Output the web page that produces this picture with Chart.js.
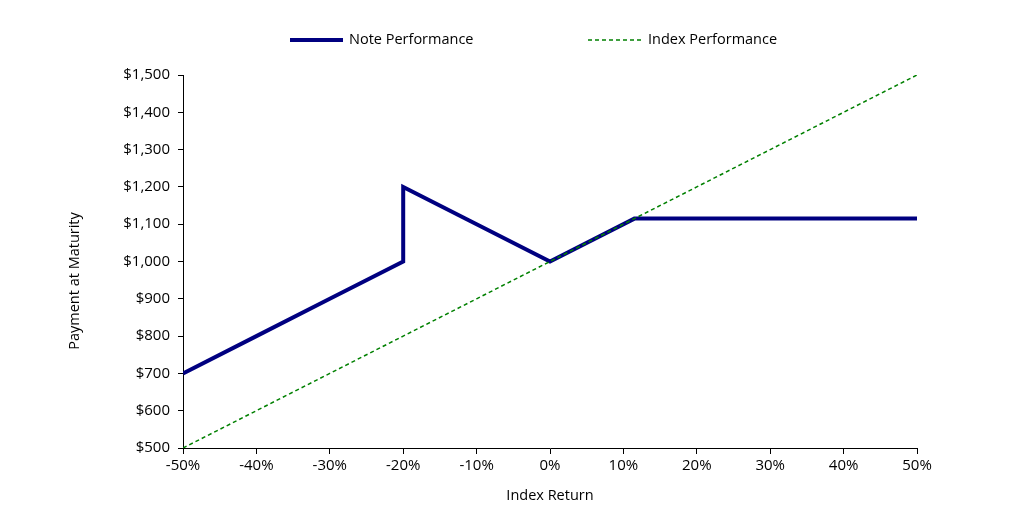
<!DOCTYPE html>
<html>
<head>
<meta charset="utf-8">
<script src="https://cdn.jsdelivr.net/npm/chart.js@4"></script>
<style>
  html, body { margin: 0; padding: 0; background: #fff; }
  #wrap { position: relative; width: 1020px; height: 513px; }
</style>
</head>
<body>
<div id="wrap"><canvas id="payoffChart" width="1020" height="513"></canvas></div>
<script>
const indexReturn = [-50, -40, -30, -20, -10, 0, 10, 20, 30, 40, 50];
const indexPayment = [500, 600, 700, 800, 900, 1000, 1100, 1200, 1300, 1400, 1500];
const noteReturn = [-50, -40, -30, -20, -20, -10, 0, 11.5, 20, 30, 40, 50];
const notePayment = [700, 800, 900, 1000, 1200, 1100, 1000, 1115, 1115, 1115, 1115, 1115];
const seriesNames = ['Note Performance', 'Index Performance'];
const axisTitles = ['Index Return', 'Payment at Maturity'];

const FONT = '"Open Sans", "Noto Sans", sans-serif';
const NAVY = '#000080';
const GREEN = '#008000';

function toPoints(xs, ys) {
    return xs.map((x, i) => ({ x: x, y: ys[i] }));
}

// legend + rotated y title drawn by hand so they sit where the original has them
const extras = {
    id: 'extras',
    afterDraw(chart) {
        const c = chart.ctx;
        c.save();
        c.font = '14.5px ' + FONT;
        c.fillStyle = '#000';
        c.textBaseline = 'middle';
        c.textAlign = 'left';

        c.strokeStyle = NAVY;
        c.lineWidth = 4;
        c.beginPath(); c.moveTo(290, 40); c.lineTo(343, 40); c.stroke();
        c.fillText(seriesNames[0], 349, 40);

        c.strokeStyle = GREEN;
        c.lineWidth = 1.5;
        c.setLineDash([4, 3]);
        c.beginPath(); c.moveTo(588, 40); c.lineTo(641, 40); c.stroke();
        c.setLineDash([]);
        c.fillText(seriesNames[1], 648, 40);

        c.translate(75, 281);
        c.rotate(-Math.PI / 2);
        c.textAlign = 'center';
        c.fillText(axisTitles[1], 0, 0);
        c.restore();
    }
};

document.addEventListener('DOMContentLoaded', function() {
    const ctx = document.getElementById('payoffChart').getContext('2d');

    new Chart(ctx, {
        type: 'scatter',
        data: {
            datasets: [{
                label: seriesNames[1],
                data: toPoints(indexReturn, indexPayment),
                showLine: true,
                borderColor: GREEN,
                borderWidth: 1.5,
                borderDash: [4, 3],
                pointRadius: 0,
                tension: 0
            }, {
                label: seriesNames[0],
                data: toPoints(noteReturn, notePayment),
                showLine: true,
                borderColor: NAVY,
                borderWidth: 4,
                pointRadius: 0,
                tension: 0
            }]
        },
        options: {
            responsive: false,
            animation: false,
            layout: { padding: { top: 75, right: 103, left: 0, bottom: 0 } },
            plugins: {
                legend: { display: false },
                tooltip: { enabled: false }
            },
            scales: {
                x: {
                    type: 'linear',
                    min: -50,
                    max: 50,
                    afterFit: (s) => { s.height = 65; },
                    grid: { drawOnChartArea: false, drawTicks: true, tickLength: 6, color: '#000' },
                    border: { display: true, color: '#000', width: 1 },
                    ticks: {
                        stepSize: 10,
                        padding: 3,
                        color: '#000',
                        font: { family: FONT, size: 15 },
                        maxRotation: 0,
                        callback: (v) => v + '%'
                    },
                    title: {
                        display: true,
                        text: axisTitles[0],
                        color: '#000',
                        font: { family: FONT, size: 14.5 },
                        padding: { top: 0, bottom: 8 }
                    }
                },
                y: {
                    min: 500,
                    max: 1500,
                    afterFit: (s) => { s.width = 183; },
                    grid: { drawOnChartArea: false, drawTicks: true, tickLength: 5, color: '#000' },
                    border: { display: true, color: '#000', width: 1 },
                    ticks: {
                        stepSize: 100,
                        padding: 8,
                        color: '#000',
                        font: { family: FONT, size: 15 },
                        callback: (v) => '$' + v.toLocaleString('en-US')
                    }
                }
            }
        },
        plugins: [extras]
    });
});
</script>
</body>
</html>
